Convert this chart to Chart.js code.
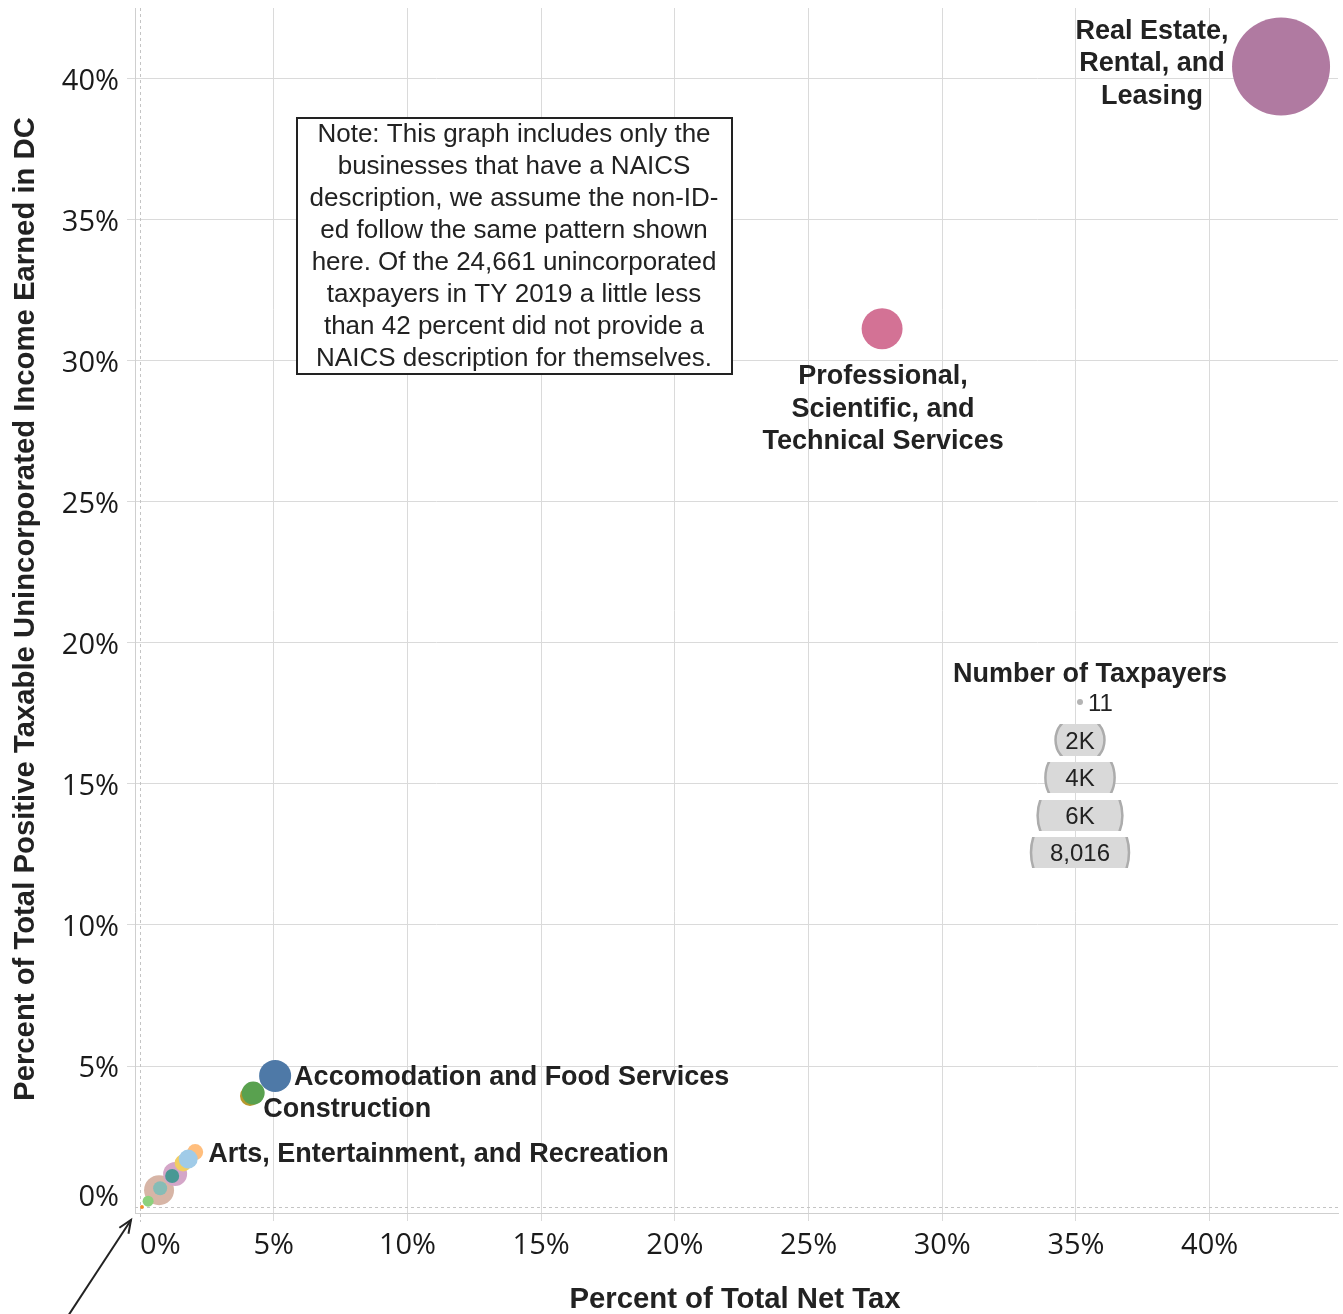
<!DOCTYPE html>
<html><head><meta charset="utf-8">
<script src="https://cdn.jsdelivr.net/npm/chart.js@4/dist/chart.umd.min.js"></script>
<style>html,body{margin:0;padding:0;background:#fff}#wrap{width:1343px;height:1314px;position:relative}</style>
</head><body><div id="wrap"><canvas id="c" width="1343" height="1314"></canvas></div>
<script>
const categories = [
  'Real Estate, Rental, and Leasing',
  'Professional, Scientific, and Technical Services',
  'Accomodation and Food Services',
  'Finance and Insurance',
  'Construction',
  'Other Services (except Public Administration)',
  'Management of Companies and Enterprises',
  'Retail Trade',
  'Information',
  'Health Care and Social Assistance',
  'Arts, Entertainment, and Recreation',
  'Administrative and Support and Waste Management',
  'Educational Services',
  'Agriculture, Forestry, Fishing and Hunting'
];
const netTaxPct = [42.67, 27.75, 5.05, 4.11, 4.23, 0.71, 0.75, 1.31, 1.20, 1.61, 2.06, 1.80, 0.30, 0.07];
const incomePct = [40.43, 31.13, 4.65, 3.94, 4.04, 0.60, 0.67, 1.17, 1.10, 1.56, 1.95, 1.70, 0.21, 0.00];
const taxpayers = [8016, 1400, 855, 333, 441, 751, 164, 481, 164, 241, 214, 301, 101, 13];
const colors = ['#b07aa1','#d37295','#4e79a7','#b6992d','#59a14f','#d7b5a6','#86bcb6','#d4a6c8','#499894','#f1ce63','#ffbe7d','#a0cbe8','#8cd17d','#f28e2b'];
const labelled = {
  0: ['Real Estate,','Rental, and','Leasing'],
  1: ['Professional,','Scientific, and','Technical Services'],
  2: ['Accomodation and Food Services'],
  4: ['Construction'],
  10: ['Arts, Entertainment, and Recreation']
};
const xTicks = [0,5,10,15,20,25,30,35,40];
const yTicks = [0,5,10,15,20,25,30,35,40];
const legendSizes = [11, 2000, 4000, 6000, 8016];
const legendLabels = ['11','2K','4K','6K','8,016'];
const noteLines = [
  'Note: This graph includes only the',
  'businesses that have a NAICS',
  'description, we assume the non-ID-',
  'ed follow the same pattern shown',
  'here. Of the 24,661 unincorporated',
  'taxpayers in TY 2019 a little less',
  'than 42 percent did not provide a',
  'NAICS description for themselves.'
];
const xTitle = 'Percent of Total Net Tax';
const yTitle = 'Percent of Total Positive Taxable Unincorporated Income Earned in DC';
const legendTitle = 'Number of Taxpayers';

const MAXR = 49, MAXN = 8016;
const rad = n => MAXR * Math.sqrt(n / MAXN);
const BOLD = 'bold 27px "Liberation Sans", Arial, sans-serif';
const TXT = '#222';

const overlay = {
  id: 'overlay',
  beforeDatasetsDraw(chart) {
    const {ctx, chartArea: a, scales: {x, y}} = chart;
    ctx.save();
    ctx.strokeStyle = '#c4c4c4'; ctx.lineWidth = 1; ctx.setLineDash([3, 3]);
    const x0 = Math.round(x.getPixelForValue(0)) + 0.5, y0 = Math.round(y.getPixelForValue(0)) + 0.5;
    ctx.beginPath();
    ctx.moveTo(x0, a.top); ctx.lineTo(x0, a.bottom + 9);
    ctx.moveTo(a.left, y0); ctx.lineTo(a.right, y0);
    ctx.stroke();
    ctx.restore();
  },
  afterDraw(chart) {
    const {ctx, chartArea: a, scales: {x, y}} = chart;
    ctx.save();
    // tick labels
    ctx.fillStyle = '#1a1a1a';
    ctx.font = '29px "Open Sans", sans-serif';
    xTicks.forEach(v => {
      const px = x.getPixelForValue(v);
      ctx.textBaseline = 'middle';
      if (v === 0) { ctx.textAlign = 'left'; ctx.fillText(v + '%', px, 1246); }
      else { ctx.textAlign = 'center'; ctx.fillText(v + '%', px, 1246); }
    });
    yTicks.forEach(v => {
      const py = y.getPixelForValue(v);
      ctx.textAlign = 'right';
      if (v === 0) { ctx.textBaseline = 'bottom'; ctx.fillText(v + '%', 119, py + 5); }
      else { ctx.textBaseline = 'middle'; ctx.fillText(v + '%', 119, py + 3); }
    });
    // axis titles
    ctx.fillStyle = TXT;
    ctx.font = 'bold 29.3px "Liberation Sans", Arial, sans-serif';
    ctx.textAlign = 'center'; ctx.textBaseline = 'middle';
    ctx.fillText(xTitle, 735, 1300);
    ctx.save();
    ctx.translate(26, 609); ctx.rotate(-Math.PI / 2);
    ctx.fillText(yTitle, 0, 0);
    ctx.restore();
    // data labels
    ctx.font = BOLD;
    const pt = i => ({px: x.getPixelForValue(netTaxPct[i]), py: y.getPixelForValue(incomePct[i])});
    let p = pt(0);
    ctx.textAlign = 'center';
    labelled[0].forEach((s, k) => ctx.fillText(s, p.px - 129, p.py - 35 + k * 32.5));
    p = pt(1);
    labelled[1].forEach((s, k) => ctx.fillText(s, p.px + 1, p.py + 48 + k * 32.5));
    ctx.textAlign = 'left';
    p = pt(2); ctx.fillText(labelled[2][0], p.px + 19, p.py + 2);
    p = pt(4); ctx.fillText(labelled[4][0], p.px + 10, p.py + 16);
    p = pt(10); ctx.fillText(labelled[10][0], p.px + 13, p.py + 2);
    // note box
    ctx.fillStyle = '#fff';
    ctx.fillRect(296, 117, 437, 258);
    ctx.strokeStyle = '#222'; ctx.lineWidth = 2;
    ctx.strokeRect(297, 118, 435, 256);
    ctx.fillStyle = TXT;
    ctx.font = '26px "Liberation Sans", Arial, sans-serif';
    ctx.textAlign = 'center';
    noteLines.forEach((s, k) => ctx.fillText(s, 514, 135 + k * 32));
    // legend
    ctx.font = BOLD;
    ctx.fillText(legendTitle, 1090, 675);
    const lx = 1080;
    ctx.fillStyle = '#b4b4b4';
    ctx.beginPath(); ctx.arc(lx, 702, Math.max(rad(legendSizes[0]), 3), 0, Math.PI * 2); ctx.fill();
    ctx.fillStyle = TXT; ctx.font = '24px "Liberation Sans", Arial, sans-serif';
    ctx.textAlign = 'left';
    ctx.fillText(legendLabels[0], 1088, 704);
    const bands = [[724, 756], [762, 793], [800, 831], [837, 868]];
    for (let k = 1; k < legendSizes.length; k++) {
      const r = rad(legendSizes[k]);
      const [t, b] = bands[k - 1];
      const cy = (t + b) / 2;
      ctx.save();
      ctx.beginPath(); ctx.rect(lx - r - 3, t, 2 * r + 6, b - t); ctx.clip();
      ctx.beginPath(); ctx.arc(lx, cy, r, 0, Math.PI * 2);
      ctx.fillStyle = '#d9d9d9'; ctx.fill();
      ctx.strokeStyle = '#acacac'; ctx.lineWidth = 2.5; ctx.stroke();
      ctx.restore();
      ctx.fillStyle = TXT; ctx.textAlign = 'center';
      ctx.fillText(legendLabels[k], lx, cy + 2);
    }
    // arrow
    ctx.strokeStyle = '#222'; ctx.lineWidth = 2;
    const tx = 131, ty = 1220, sx = 68, sy = 1316;
    ctx.beginPath(); ctx.moveTo(sx, sy); ctx.lineTo(tx, ty); ctx.stroke();
    const ang = Math.atan2(ty - sy, tx - sx);
    ctx.beginPath();
    ctx.moveTo(tx - 14 * Math.cos(ang - 0.4), ty - 14 * Math.sin(ang - 0.4));
    ctx.lineTo(tx, ty);
    ctx.lineTo(tx - 14 * Math.cos(ang + 0.4), ty - 14 * Math.sin(ang + 0.4));
    ctx.stroke();
    ctx.restore();
  }
};

const gridOpts = {
  color: ctx => (ctx.tick && ctx.tick.value === 0) ? 'rgba(0,0,0,0)' : '#dadada',
  lineWidth: 1,
  drawTicks: true,
  tickLength: 8,
  tickColor: ctx => (ctx.tick && ctx.tick.value === 0) ? 'rgba(0,0,0,0)' : '#dadada'
};

new Chart(document.getElementById('c'), {
  type: 'bubble',
  data: {
    datasets: [{
      label: 'Sectors',
      data: categories.map((c, i) => ({x: netTaxPct[i], y: incomePct[i], r: rad(taxpayers[i])})),
      backgroundColor: colors,
      borderWidth: 0,
      hoverRadius: 0
    }]
  },
  options: {
    responsive: false,
    devicePixelRatio: 1,
    animation: false,
    layout: {autoPadding: false, padding: {top: 8, right: 5, left: 0, bottom: 0}},
    plugins: {legend: {display: false}, tooltip: {enabled: false}},
    scales: {
      x: {
        type: 'linear', min: -0.19, max: 44.8,
        afterBuildTicks: s => { s.ticks = xTicks.map(v => ({value: v})); },
        afterFit: s => { s.height = 101; },
        ticks: {display: false},
        grid: gridOpts,
        border: {display: true, color: '#cfcfcf', width: 1}
      },
      y: {
        type: 'linear', min: -0.21, max: 42.5,
        afterBuildTicks: s => { s.ticks = yTicks.map(v => ({value: v})); },
        afterFit: s => { s.width = 135; },
        ticks: {display: false},
        grid: gridOpts,
        border: {display: true, color: '#cfcfcf', width: 1}
      }
    }
  },
  plugins: [overlay]
});
</script>
</body></html>
